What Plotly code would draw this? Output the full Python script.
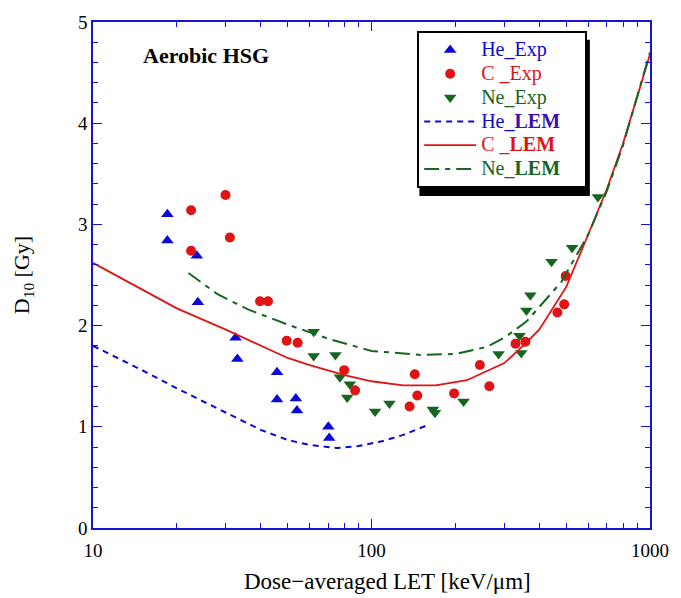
import plotly.graph_objects as go

# ---------------- data ----------------
he_exp_x = [18.5, 18.5, 23.6, 23.8, 32.5, 33.0, 45.8, 45.8, 53.5, 54.0, 70.0, 70.5]
he_exp_y = [3.10, 2.84, 2.69, 2.23, 1.88, 1.67, 1.54, 1.27, 1.28, 1.16, 1.00, 0.89]

c_exp_x = [22.5, 22.5, 29.9, 31.0, 39.8, 42.5, 49.6, 54.3, 79.8, 87.3, 137, 143, 146, 198, 245, 265, 329, 357, 465, 492, 498]
c_exp_y = [3.14, 2.74, 3.29, 2.87, 2.24, 2.24, 1.85, 1.83, 1.56, 1.36, 1.20, 1.52, 1.31, 1.33, 1.61, 1.40, 1.82, 1.84, 2.13, 2.21, 2.49]

ne_exp_x = [62, 62, 74.2, 77, 83.6, 81.8, 103, 116, 166, 169, 214, 286, 340, 345, 360, 372, 443, 525, 650]
ne_exp_y = [1.94, 1.70, 1.71, 1.49, 1.42, 1.29, 1.15, 1.23, 1.17, 1.14, 1.25, 1.72, 1.90, 1.73, 2.15, 2.30, 2.63, 2.77, 3.27]

he_lem_x = [10, 15, 20, 30, 40, 50, 60, 75, 90, 110, 130, 160]
he_lem_y = [1.80, 1.56, 1.38, 1.14, 0.97, 0.87, 0.82, 0.79, 0.81, 0.86, 0.92, 1.02]

c_lem_x = [10, 12, 15, 20, 30, 40, 50, 60, 80, 100, 130, 170, 220, 300, 350, 400, 500, 600, 700, 800, 1000]
c_lem_y = [2.62, 2.50, 2.36, 2.17, 1.96, 1.80, 1.68, 1.61, 1.51, 1.45, 1.41, 1.41, 1.46, 1.63, 1.80, 1.96, 2.38, 2.90, 3.35, 3.80, 4.68]

ne_lem_x = [22, 28, 36, 50, 70, 100, 150, 200, 260, 300, 360, 480, 600, 700, 800, 1000]
ne_lem_y = [2.52, 2.31, 2.16, 2.01, 1.87, 1.75, 1.71, 1.72, 1.79, 1.88, 2.04, 2.43, 2.90, 3.33, 3.78, 4.70]

BLUE = "#0a0ad8"
RED = "#e01414"
GREEN = "#16661f"
AXC = "#1414d8"
FONT = "Times New Roman"
PAD = "&nbsp;" * 4


def lab(color, text):
    return f"<span style='color:{color};font-size:20px'>{text}</span>"


fig = go.Figure()

fig.add_trace(go.Scatter(x=he_exp_x, y=he_exp_y, mode="markers",
                         marker=dict(symbol="triangle-up", size=11, color=BLUE),
                         name=lab(BLUE, "He_Exp")))
fig.add_trace(go.Scatter(x=c_exp_x, y=c_exp_y, mode="markers",
                         marker=dict(symbol="circle", size=10, color=RED),
                         name=lab(RED, "C _Exp")))
fig.add_trace(go.Scatter(x=ne_exp_x, y=ne_exp_y, mode="markers",
                         marker=dict(symbol="triangle-down", size=11, color=GREEN),
                         name=lab(GREEN, "Ne_Exp")))
fig.add_trace(go.Scatter(x=he_lem_x, y=he_lem_y, mode="lines",
                         line=dict(color=BLUE, width=2, dash="6px,5px"),
                         name=lab(BLUE, "He_<b style='color:#3a10b0'>LEM</b>")))
fig.add_trace(go.Scatter(x=c_lem_x, y=c_lem_y, mode="lines",
                         line=dict(color=RED, width=1.8),
                         name=lab(RED, "C _<b>LEM</b>")))
fig.add_trace(go.Scatter(x=ne_lem_x, y=ne_lem_y, mode="lines",
                         line=dict(color=GREEN, width=2, dash="15px,6px,5px,6px"),
                         name=lab(GREEN, f"Ne_<b>LEM</b>{PAD}")))

# legend shadow
fig.add_shape(type="rect", xref="paper", yref="paper",
              x0=0.586, x1=0.892, y0=0.656, y1=0.965,
              fillcolor="black", line=dict(width=0), layer="below")

fig.add_annotation(text="<b>Aerobic HSG</b>", xref="paper", yref="paper",
                   x=0.203, y=0.933, xanchor="center", yanchor="middle", showarrow=False,
                   font=dict(family=FONT, size=22, color="black"))

# x-axis title (offset to the right like the reference)
fig.add_annotation(text="Dose\u2212averaged LET [keV/\u03bcm]", xref="paper", yref="paper",
                   x=0.529, y=-0.106, xanchor="center", yanchor="middle", showarrow=False,
                   font=dict(family=FONT, size=23, color="black"))

fig.update_layout(
    width=681, height=598,
    margin=dict(l=93, r=25, t=17, b=70),
    paper_bgcolor="white", plot_bgcolor="white",
    font=dict(family=FONT, size=19, color="black"),
    showlegend=True,
    legend=dict(x=0.582, y=0.982, xanchor="left", yanchor="top",
                bgcolor="white", bordercolor="black", borderwidth=2,
                font=dict(family=FONT, size=16), tracegroupgap=0,
                itemwidth=52),
)

fig.update_xaxes(type="log", range=[1, 3],
                 showline=True, linecolor=AXC, linewidth=1.5, mirror="ticks",
                 ticks="inside", ticklen=9, tickcolor=AXC, tickwidth=1.2,
                 tickvals=[10, 100, 1000], ticktext=["10", "100", "1000"],
                 showgrid=False, zeroline=False, ticklabelstandoff=4,
                 minor=dict(ticks="inside", ticklen=5, tickcolor=AXC, tickwidth=1,
                            tickvals=[20, 30, 40, 50, 60, 70, 80, 90, 200, 300, 400, 500, 600, 700, 800, 900],
                            showgrid=False),
                 tickfont=dict(family=FONT, size=19))

fig.update_yaxes(range=[0, 5],
                 showline=True, linecolor=AXC, linewidth=1.5, mirror="ticks",
                 ticks="inside", ticklen=9, tickcolor=AXC, tickwidth=1.2,
                 tickvals=[0, 1, 2, 3, 4, 5],
                 showgrid=False, zeroline=False,
                 minor=dict(ticks="inside", ticklen=5, tickcolor=AXC, tickwidth=1,
                            dtick=0.2, showgrid=False),
                 tickfont=dict(family=FONT, size=19),
                 title=dict(text="D<sub>10</sub> [Gy]",
                            font=dict(family=FONT, size=22), standoff=42))

fig.write_html("out.html")
